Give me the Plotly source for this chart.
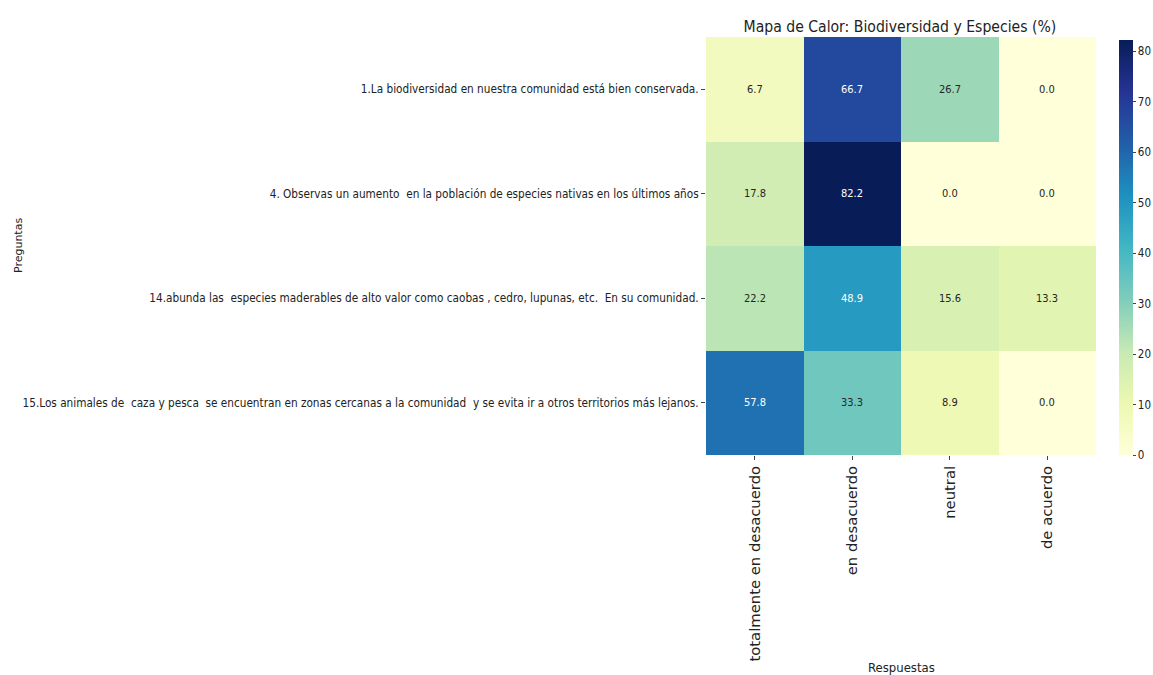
import plotly.graph_objects as go
import plotly.colors as pc

preguntas = [
    "1.La biodiversidad en nuestra comunidad está bien conservada.",
    "4. Observas un aumento  en la población de especies nativas en los últimos años",
    "14.abunda las  especies maderables de alto valor como caobas , cedro, lupunas, etc.  En su comunidad.",
    "15.Los animales de  caza y pesca  se encuentran en zonas cercanas a la comunidad  y se evita ir a otros territorios más lejanos.",
]
respuestas = ["totalmente en desacuerdo", "en desacuerdo", "neutral", "de acuerdo"]

fila_1 = [6.7, 66.7, 26.7, 0.0]
fila_4 = [17.8, 82.2, 0.0, 0.0]
fila_14 = [22.2, 48.9, 15.6, 13.3]
fila_15 = [57.8, 33.3, 8.9, 0.0]
valores = [fila_1, fila_4, fila_14, fila_15]

zmax = max(max(r) for r in valores)
narrow = "Liberation Sans Narrow, DejaVu Sans Condensed, Arial Narrow, sans-serif"

fig = go.Figure()
fig.add_trace(go.Heatmap(
    z=valores, x=respuestas, y=preguntas,
    colorscale=pc.sequential.YlGnBu, zmin=0, zmax=zmax,
    xgap=0, ygap=0, hoverinfo="skip",
    colorbar=dict(
        x=1.059, xanchor="left", xpad=0, y=0.496, yanchor="middle", ypad=0,
        len=0.993, lenmode="fraction",
        thickness=14, outlinewidth=0, ticks="outside", ticklen=3,
        tickvals=[0, 10, 20, 30, 40, 50, 60, 70, 80],
        tickfont=dict(family=narrow, size=11.5, color="#222"),
    ),
))

for i, fila in enumerate(valores):
    for j, v in enumerate(fila):
        fig.add_annotation(
            x=respuestas[j], y=preguntas[i], text=f"{v:.1f}", showarrow=False,
            font=dict(family=narrow, size=11, color="white" if v > 0.55 * zmax else "#262626"),
        )

fig.update_layout(
    width=1153, height=675,
    margin=dict(l=706, r=57, t=37, b=220, autoexpand=False),
    paper_bgcolor="white", plot_bgcolor="white",
    title=dict(text="Mapa de Calor: Biodiversidad y Especies (%)", x=0.7805, xanchor="center",
               y=0.96, yanchor="middle", font=dict(family=narrow, size=15.6, color="#222")),
    font=dict(family=narrow, color="#222"),
)
fig.update_xaxes(
    tickangle=-90, ticks="outside", ticklen=4, tickcolor="#444", automargin=False,
    tickfont=dict(family="DejaVu Sans", size=14.8, color="#222"),
    showgrid=False, zeroline=False,
)
fig.update_yaxes(
    autorange="reversed", ticks="outside", ticklen=4, tickcolor="#444", automargin=False,
    tickfont=dict(family=narrow, size=11.7, color="#222"),
    showgrid=False, zeroline=False,
)
fig.add_annotation(
    xref="paper", yref="paper", x=-1.764, y=0.5, xanchor="center", yanchor="middle",
    text="Preguntas", textangle=-90, showarrow=False,
    font=dict(family="DejaVu Sans", size=11, color="#222"),
)
fig.add_annotation(
    xref="paper", yref="paper", x=0.5, y=-0.508, xanchor="center", yanchor="middle",
    text="Respuestas", showarrow=False,
    font=dict(family=narrow, size=13, color="#222"),
)

fig.write_html(
    "out.html",
    config={"displayModeBar": False},
    post_script="document.body.style.margin='0';document.body.style.overflow='hidden';",
)
